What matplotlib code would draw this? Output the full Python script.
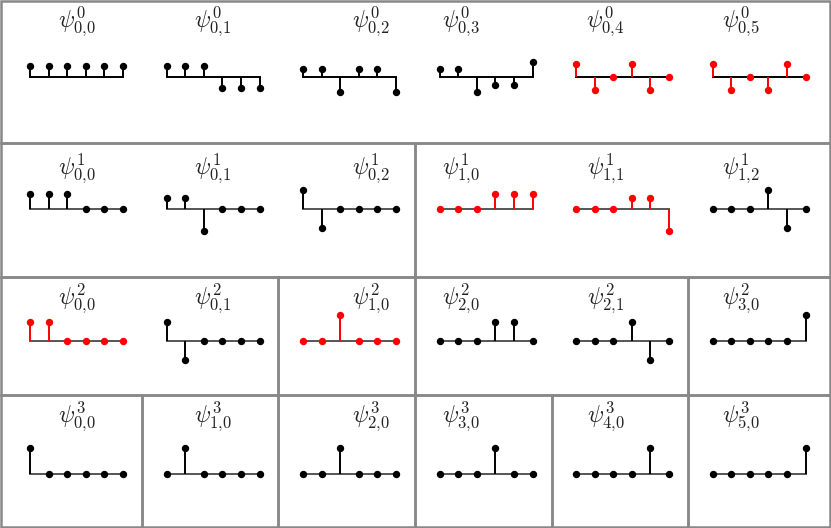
import matplotlib
matplotlib.use("Agg")
import matplotlib.pyplot as plt
from matplotlib.patches import Rectangle

plt.rcParams["mathtext.fontset"] = "cm"

# sample positions shared by every stem plot
POINTS = [0, 1, 2, 3, 4, 5]

# level 0: six vectors on the full set
PSI0 = [
    [0.41, 0.41, 0.41, 0.41, 0.41, 0.41],
    [0.41, 0.41, 0.41, -0.41, -0.41, -0.41],
    [0.29, 0.29, -0.58, 0.29, 0.29, -0.58],
    [0.29, 0.29, -0.58, -0.29, -0.29, 0.58],
    [0.5, -0.5, 0.0, 0.5, -0.5, 0.0],
    [0.5, -0.5, 0.0, -0.5, 0.5, 0.0],
]
LAB0 = ["0,0", "0,1", "0,2", "0,3", "0,4", "0,5"]
RED0 = [False, False, False, False, True, True]

# level 1: two blocks of three
PSI1 = [
    [0.58, 0.58, 0.58, 0.0, 0.0, 0.0],
    [0.41, 0.41, -0.82, 0.0, 0.0, 0.0],
    [0.71, -0.71, 0.0, 0.0, 0.0, 0.0],
    [0.0, 0.0, 0.0, 0.58, 0.58, 0.58],
    [0.0, 0.0, 0.0, 0.41, 0.41, -0.82],
    [0.0, 0.0, 0.0, 0.71, -0.71, 0.0],
]
LAB1 = ["0,0", "0,1", "0,2", "1,0", "1,1", "1,2"]
RED1 = [False, False, False, True, True, False]

# level 2: blocks of two / one
PSI2 = [
    [0.71, 0.71, 0.0, 0.0, 0.0, 0.0],
    [0.71, -0.71, 0.0, 0.0, 0.0, 0.0],
    [0.0, 0.0, 1.0, 0.0, 0.0, 0.0],
    [0.0, 0.0, 0.0, 0.71, 0.71, 0.0],
    [0.0, 0.0, 0.0, 0.71, -0.71, 0.0],
    [0.0, 0.0, 0.0, 0.0, 0.0, 1.0],
]
LAB2 = ["0,0", "0,1", "1,0", "2,0", "2,1", "3,0"]
RED2 = [True, False, True, False, False, False]

# level 3: single points
PSI3 = [
    [1.0, 0.0, 0.0, 0.0, 0.0, 0.0],
    [0.0, 1.0, 0.0, 0.0, 0.0, 0.0],
    [0.0, 0.0, 1.0, 0.0, 0.0, 0.0],
    [0.0, 0.0, 0.0, 1.0, 0.0, 0.0],
    [0.0, 0.0, 0.0, 0.0, 1.0, 0.0],
    [0.0, 0.0, 0.0, 0.0, 0.0, 1.0],
]
LAB3 = ["0,0", "1,0", "2,0", "3,0", "4,0", "5,0"]
RED3 = [False] * 6

LEVELS = [(PSI0, LAB0, RED0), (PSI1, LAB1, RED1), (PSI2, LAB2, RED2), (PSI3, LAB3, RED3)]

# ---- layout (pixels) ----
FW, FH = 831, 528
X_START, X_STEP, PLOT_W = 30, 136.5, 93      # pixel of x=0 per column, x=0..5 span
BASE_Y = [77, 209, 341, 474]                  # baseline pixel per row
PX_PER_UNIT = 26.5
TITLE_Y = [22, 168, 298, 417]
TITLE_DX = [0, 0, 21, -25, -17, -18]
ROW_EDGES = [1, 143, 277, 395, 527]
BOXES = [
    [(1, 830)],
    [(1, 415), (415, 830)],
    [(1, 278), (278, 415), (415, 688), (688, 830)],
    [(1, 142), (142, 278), (278, 415), (415, 552), (552, 688), (688, 830)],
]
RED, GREYLINE = "#ff0000", "#888888"

fig = plt.figure(figsize=(FW / 100, FH / 100), dpi=100)

# frame boxes
bg = fig.add_axes([0, 0, 1, 1])
bg.set_xlim(0, FW); bg.set_ylim(FH, 0); bg.axis("off")
for r, row in enumerate(BOXES):
    for x0, x1 in row:
        bg.add_patch(Rectangle((x0, ROW_EDGES[r]), x1 - x0, ROW_EDGES[r + 1] - ROW_EDGES[r],
                               fill=False, edgecolor=GREYLINE, linewidth=1.8))

XM = 0.6   # data margin left/right
YM = 1.3   # ylim half-range
unit_x = PLOT_W / 5
for r, (vecs, labs, reds) in enumerate(LEVELS):
    for c, (v, lab, red) in enumerate(zip(vecs, labs, reds)):
        left = X_START + c * X_STEP - XM * unit_x
        width = (5 + 2 * XM) * unit_x
        h = 2 * YM * PX_PER_UNIT
        bottom = FH - BASE_Y[r] - h / 2
        ax = fig.add_axes([left / FW, bottom / FH, width / FW, h / FH])
        ax.set_xlim(-XM, 5 + XM); ax.set_ylim(-YM, YM); ax.axis("off")
        col = RED if red else "black"
        base_col = "black" if r == 0 else "#555555"
        ml, sl, bl = ax.stem(POINTS, v)
        plt.setp(ml, color=col, markersize=4.3)
        plt.setp(sl, color=col, linewidth=1.4)
        plt.setp(bl, color=base_col, linewidth=1.4)
        bl.set_zorder(1)
        tx = X_START + c * X_STEP + PLOT_W / 2 + TITLE_DX[c]
        sub = lab.replace(",", "{,}")
        fig.text(tx / FW, 1 - TITLE_Y[r] / FH, r"$\psi^{%d}_{%s}$" % (r, sub),
                 ha="center", va="center", fontsize=17, color="#222222")

fig.savefig("out.png", dpi=100)
